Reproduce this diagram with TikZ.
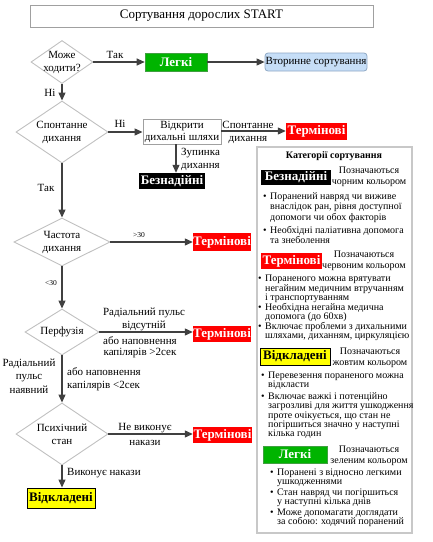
\documentclass[tikz,border=0pt]{standalone}
\usepackage{fontspec}
\setmainfont{Liberation Serif}
\usetikzlibrary{arrows.meta,shapes.geometric}
\definecolor{diagray}{HTML}{C0C0C0}
\definecolor{arrgray}{HTML}{404040}
\definecolor{boxgray}{HTML}{A0A0A0}
\definecolor{panelgray}{HTML}{C8C8C8}
\definecolor{lgreen}{HTML}{00B400}
\definecolor{lgreenb}{HTML}{40A040}
\definecolor{tred}{HTML}{FF0000}
\definecolor{vfill}{HTML}{C6DEF7}
\definecolor{vborder}{HTML}{8FA8C4}
\definecolor{vyellow}{HTML}{FFFF00}
\newcommand\flw{\fontsize{11}{13}\selectfont}
\newcommand\ttlf{\fontsize{13}{15}\selectfont}
\newcommand\catf{\fontsize{13}{15}\selectfont\bfseries}
\newcommand\pnlf{\fontsize{10}{10}\selectfont}
\newcommand\smf{\fontsize{7.5}{9}\selectfont}
\newcommand\bul{\makebox[7pt][l]{\textbullet}}
\newcommand\ind{\hspace*{7pt}}
\begin{document}
\begin{tikzpicture}[x=1pt,y=-1pt,
  dia/.style={diamond, draw=diagray, line width=0.9pt, inner sep=0pt},
  arr/.style={draw=arrgray, line width=1.1pt, -{Triangle[length=8pt,width=7pt]}},
  flow/.style={font=\flw, inner sep=0pt},
  lbl/.style={font=\flw, inner sep=0pt, align=center},
  catbox/.style={inner sep=0pt, font=\catf},
  green box/.style={catbox, fill=lgreen, draw=lgreenb, line width=0.6pt, text=white},
  red box/.style={catbox, fill=tred, text=white},
  black box/.style={catbox, fill=black, text=white},
  yellow box/.style={catbox, fill=vyellow, draw=black, line width=0.9pt, text=black},
  pnl/.style={font=\pnlf, inner sep=0pt},
]
\useasboundingbox (0,0) rectangle (432,542);
% title
\node[draw=boxgray, line width=1pt, minimum width=343pt, minimum height=22pt, inner sep=0pt, font=\ttlf] (title) at (201.5,16) {Сортування дорослих START};
% diamonds
\node[dia, minimum width=62pt, minimum height=43pt, label={[lbl]center:Може\\ходити?}] (d1) at (62,62) {};
\node[dia, minimum width=92pt, minimum height=62pt, label={[lbl]center:Спонтанне\\дихання}] (d2) at (62,132) {};
\node[dia, minimum width=96pt, minimum height=48pt, label={[lbl]center:Частота\\дихання}] (d3) at (62,242) {};
\node[dia, minimum width=74pt, minimum height=46pt, label={[lbl]center:Перфузія}] (d4) at (62,332) {};
\node[dia, minimum width=92pt, minimum height=62pt, label={[lbl]center:Психічний\\стан}] (d5) at (62,434) {};
% boxes
\node[green box, minimum width=62pt, minimum height=18pt] (legki1) at (176,62) {Легкі};
\node[draw=vborder, fill=vfill, line width=0.8pt, rounded corners=3pt, minimum width=102pt, minimum height=18pt, inner sep=0pt, font=\flw] (vtor) at (316,62) {Вторинне сортування};
\node[draw=boxgray, line width=0.9pt, minimum width=78pt, minimum height=25pt, inner sep=0pt, align=center, font=\flw] (vidkr) at (182,131.5) {Відкрити\\[-1pt]дихальні шляхи};
\node[red box, minimum width=61pt, minimum height=17pt] (term1) at (316.5,131) {Термінові};
\node[black box, minimum width=66pt, minimum height=16pt] (bez1) at (172,181) {Безнадійні};
\node[red box, minimum width=58pt, minimum height=18pt] (term2) at (222,242) {Термінові};
\node[red box, minimum width=58pt, minimum height=16pt] (term3) at (222,334) {Термінові};
\node[red box, minimum width=59pt, minimum height=16pt] (term4) at (222.5,435) {Термінові};
\node[yellow box, minimum width=68pt, minimum height=20pt] (vidkl1) at (61,498) {Відкладені};
% connectors
\draw[arr] (d1.east) -- (d1.east -| legki1.west);
\draw[arr] (legki1.east) -- (legki1.east -| vtor.west);
\draw[arr] (d1.south) -- (d2.north);
\draw[arr] (d2.east) -- (d2.east -| vidkr.west);
\draw[arr] (vidkr.east |- term1.west) -- (term1.west);
\draw[arr] ([xshift=-6pt]vidkr.south) -- ([xshift=4pt]bez1.north);
\draw[arr] (d2.south) -- (d3.north);
\draw[arr] (d3.east) -- (d3.east -| term2.west);
\draw[arr] (d3.south) -- (d4.north);
\draw[arr] (d4.east) -- (d4.east -| term3.west);
\draw[arr] (d4.south) -- (d5.north);
\draw[arr] (d5.east) -- (d5.east -| term4.west);
\draw[arr] (d5.south) -- (d5.south |- vidkl1.north);
% connector labels
\node[flow] (l1) at (115,55) {Так};
\node[flow] (l2) at (50,93) {Ні};
\node[flow] (l3) at (120,124) {Ні};
\node[lbl] (l4) at (248,132) {Спонтанне\\дихання};
\node[flow, align=left, anchor=west] (l5) at (181,159.5) {Зупинка\\дихання};
\node[flow] (l6) at (46,188) {Так};
\node[font=\smf, inner sep=0pt] (l7) at (139,235) {>30};
\node[font=\smf, inner sep=0pt] (l8) at (51,283) {<30};
\node[lbl] (l9) at (144,319) {Радіальний пульс\\відсутній};
\node[lbl] (l10) at (140,347.5) {або наповнення\\[-2pt]капілярів >2сек};
\node[lbl] (l11) at (29,376) {Радіальний\\[0.5pt]пульс\\[0.5pt]наявний};
\node[flow, align=left, anchor=west] (l12) at (67,379.5) {або наповнення\\капілярів <2сек};
\node[lbl] (l13) at (145,434.5) {Не виконує\\[2pt]накази};
\node[flow, anchor=west] (l14) at (67,473) {Виконує накази};
% legend panel
\node[draw=panelgray, line width=2pt, minimum width=155pt, minimum height=386pt, inner sep=0pt] (panel) at (334.5,340) {};
\node[pnl, font=\pnlf\bfseries] (ptitle) at (334,156) {Категорії сортування};
\node[black box, minimum width=70pt, minimum height=15pt] (pb1) at (296,177.5) {Безнадійні};
\node[pnl, align=center] (pd1) at (369,177) {Позначаються\\[1pt]чорним кольором};
\node[pnl, align=left, anchor=north west] (pl1) at (263,192) {\bul Поранений навряд чи виживе\\[0.5pt]
\ind внаслідок ран, рівня доступної\\[0.5pt]
\ind допомоги чи обох факторів\\[3pt]
\bul Необхідні паліативна допомога\\[0.5pt]
\ind та знеболення};
\node[red box, minimum width=61pt, minimum height=16pt] (pb2) at (291.5,261) {Термінові};
\node[pnl, align=center] (pd2) at (364,260.5) {Позначаються\\[1pt]червоним кольором};
\node[pnl, align=left, anchor=north west] (pl2) at (258,275) {\makebox[7pt][l]{\textbullet}Пораненого можна врятувати\\[-0.5pt]
\ind негайним медичним втручанням\\[-0.5pt]
\ind і транспортуванням\\[-0.5pt]
\bul Необхідна негайна медична\\[-0.5pt]
\ind допомога (до 60хв)\\[-0.5pt]
\bul Включає проблеми з дихальними\\[-0.5pt]
\ind шляхами, диханням, циркуляцією};
\node[yellow box, minimum width=70pt, minimum height=17pt] (pb3) at (295,356.5) {Відкладені};
\node[pnl, align=center] (pd3) at (370,357.5) {Позначаються\\[1pt]жовтим кольором};
\node[pnl, align=left, anchor=north west] (pl3) at (261,372) {\bul Перевезення пораненого можна\\[-1pt]
\ind відкласти\\[2pt]
\bul Включає важкі і потенційно\\[-1pt]
\ind загрозливі для життя ушкодження\\[-0.5pt]
\ind проте очікується, що стан не\\[-1pt]
\ind погіршиться значно у наступні\\[-1pt]
\ind кілька годин};
\node[green box, minimum width=64pt, minimum height=17pt] (pb4) at (295,454.5) {Легкі};
\node[pnl, align=center] (pd4) at (369,455.5) {Позначаються\\[1pt]зеленим кольором};
\node[pnl, align=left, anchor=north west] (pl4) at (270,469) {\bul Поранені з відносно легкими\\[-1pt]
\ind ушкодженнями\\[0.5pt]
\bul Стан навряд чи погіршиться\\[-1pt]
\ind у наступні кілька днів\\[1.5pt]
\bul Може допомагати доглядати\\[-1pt]
\ind за собою: ходячий поранений};
\end{tikzpicture}
\end{document}
